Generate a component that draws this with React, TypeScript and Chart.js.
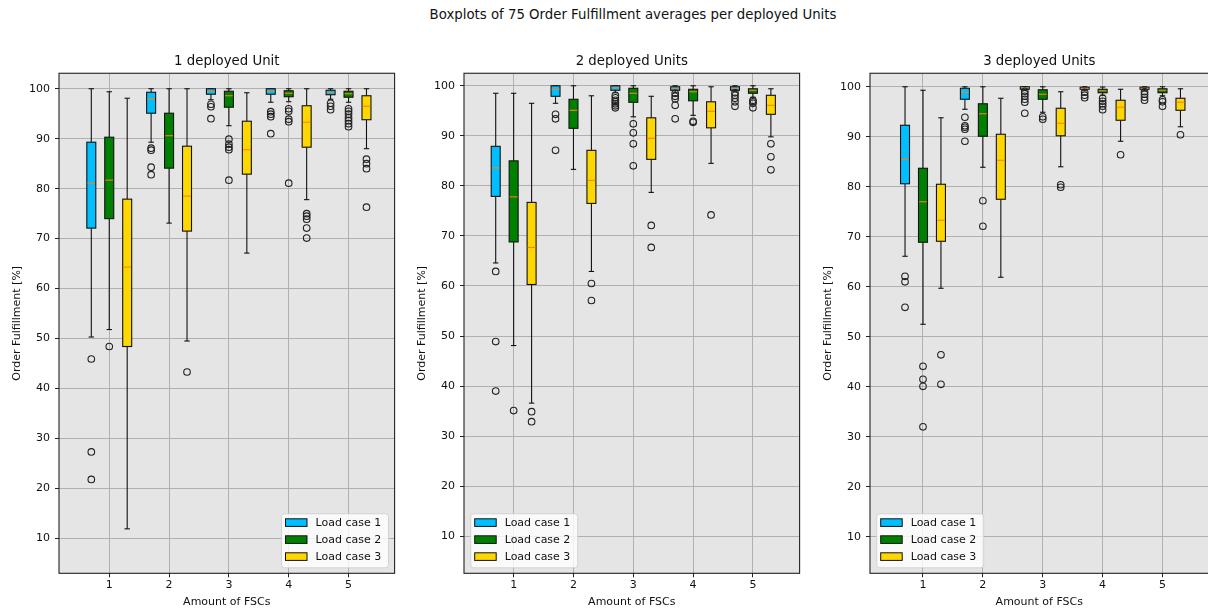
import React, { useEffect, useRef } from 'react';
import { Chart, registerables } from 'chart.js';

Chart.register(...registerables);

// ---------------- data ----------------
const figureTitle = 'Boxplots of 75 Order Fulfillment averages per deployed Units';
const panelTitles = ['1 deployed Unit', '2 deployed Units', '3 deployed Units'];
const xAxisLabel = 'Amount of FSCs';
const yAxisLabel = 'Order Fulfillment [%]';
const fscCounts = [1, 2, 3, 4, 5];
const yTickValues = [10, 20, 30, 40, 50, 60, 70, 80, 90, 100];
const loadCaseLabels = ['Load case 1', 'Load case 2', 'Load case 3'];
const loadCaseColors = ['#00bfff', '#008000', '#ffd700'];
const loadCaseOffsets = [-0.3, 0, 0.3];

// per FSC count: [lower whisker, Q1, median, Q3, upper whisker]
const unit1Case1 = [
  [50.3, 72.1, 81.1, 89.3, 100],
  [89.3, 95.1, 97.9, 99.3, 100],
  [97.8, 98.9, 99.5, 100, 100],
  [97.3, 98.9, 99.5, 100, 100],
  [97.9, 98.8, 99.3, 99.7, 100],
];
const unit1Case2 = [
  [51.8, 74.0, 81.7, 90.3, 99.4],
  [73.1, 84.1, 90.6, 95.1, 100],
  [92.6, 96.3, 98.6, 99.5, 100],
  [97.4, 98.4, 99.1, 99.6, 100],
  [97.3, 98.3, 99.0, 99.5, 100],
];
const unit1Case3 = [
  [11.9, 48.4, 64.3, 77.9, 98.1],
  [49.5, 71.5, 78.5, 88.5, 100],
  [67.1, 82.9, 87.8, 93.5, 99.2],
  [77.8, 88.3, 93.3, 96.6, 100],
  [88.0, 93.8, 96.5, 98.6, 100],
];
const unit1Case1Outliers = [[45.9, 27.3, 21.8], [88.1, 87.7, 84.3, 82.8], [96.9, 96.4, 94.0], [95.4, 94.9, 94.4, 91.0], [97.1, 96.5, 95.8]];
const unit1Case2Outliers = [[48.4], [], [89.9, 88.9, 88.3, 87.8, 81.7], [96.0, 95.5, 93.9, 93.4, 81.1], [96.0, 95.5, 94.9, 94.2, 93.6, 93.0, 92.4]];
const unit1Case3Outliers = [[], [43.3], [], [75.0, 74.5, 73.9, 72.1, 70.1], [85.9, 85.0, 84.0, 76.3]];

const unit2Case1 = [
  [64.6, 77.9, 83.6, 87.9, 98.5],
  [96.5, 97.9, 99.3, 100, 100],
  [98.6, 99.1, 99.6, 100, 100],
  [98.7, 99.1, 99.5, 99.8, 100],
  [98.9, 99.1, 99.5, 99.8, 100],
];
const unit2Case2 = [
  [48.1, 68.8, 77.8, 85.0, 98.5],
  [83.3, 91.5, 95.1, 97.3, 100],
  [93.8, 96.7, 98.5, 99.5, 100],
  [94.1, 97.0, 98.8, 99.3, 100],
  [97.7, 98.5, 99.1, 99.4, 100],
];
const unit2Case3 = [
  [36.6, 60.3, 67.7, 76.7, 96.5],
  [62.9, 76.5, 81.1, 87.1, 98.0],
  [78.7, 85.3, 89.5, 93.6, 97.9],
  [84.5, 91.6, 94.9, 96.8, 99.8],
  [89.8, 94.3, 96.1, 98.1, 99.4],
];
const unit2Case1Outliers = [[62.9, 48.9, 39.0], [94.3, 93.4, 87.1], [98.1, 97.6, 97.1, 96.8, 96.4, 96.0, 95.6], [98.5, 97.9, 97.4, 96.1, 93.4], [98.6, 98.1, 97.5, 96.8, 95.9]];
const unit2Case2Outliers = [[35.1], [], [92.4, 90.6, 88.4, 84.0], [92.9, 92.7], [97.1, 96.8, 96.5, 95.6]];
const unit2Case3Outliers = [[34.9, 32.9], [60.5, 57.1], [72.1, 67.7], [74.2], [88.4, 85.8, 83.2]];

const unit3Case1 = [
  [66.1, 80.6, 85.5, 92.3, 100],
  [95.5, 97.5, 98.9, 99.7, 100],
  [99.3, 99.5, 99.8, 100, 100],
  [99.2, 99.5, 99.7, 99.9, 100],
  [99.2, 99.5, 99.7, 99.9, 100],
];
const unit3Case2 = [
  [52.5, 68.9, 77.0, 83.7, 99.3],
  [83.9, 90.1, 94.6, 96.6, 100],
  [94.9, 97.5, 98.5, 99.4, 100],
  [98.3, 98.8, 99.2, 99.5, 99.95],
  [98.2, 98.8, 99.3, 99.6, 100],
];
const unit3Case3 = [
  [59.7, 69.1, 73.3, 80.5, 93.8],
  [61.9, 77.5, 85.3, 90.5, 97.7],
  [84.0, 90.2, 92.7, 95.7, 99.0],
  [89.1, 93.3, 95.9, 97.3, 99.5],
  [92.0, 95.3, 96.9, 97.7, 99.6],
];
const unit3Case1Outliers = [[62.1, 61.0, 55.9], [93.9, 92.2, 91.9, 91.5, 89.1], [99.1, 98.6, 98.1, 97.5, 96.9, 94.7], [98.9, 98.3, 97.8], [99.0, 98.5, 97.9, 97.3]];
const unit3Case2Outliers = [[44.1, 41.5, 40.1, 32.0], [77.2, 72.1], [94.0, 93.5], [97.7, 97.1, 96.6, 96.1, 95.4], [97.4, 97.0, 96.1]];
const unit3Case3Outliers = [[46.4, 40.5], [], [80.4, 79.9], [86.4], [90.4]];

const panels = [
  { title: panelTitles[0], stats: [unit1Case1, unit1Case2, unit1Case3], outliers: [unit1Case1Outliers, unit1Case2Outliers, unit1Case3Outliers], legendLoc: 'lower right' },
  { title: panelTitles[1], stats: [unit2Case1, unit2Case2, unit2Case3], outliers: [unit2Case1Outliers, unit2Case2Outliers, unit2Case3Outliers], legendLoc: 'lower left' },
  { title: panelTitles[2], stats: [unit3Case1, unit3Case2, unit3Case3], outliers: [unit3Case1Outliers, unit3Case2Outliers, unit3Case3Outliers], legendLoc: 'lower left' },
];

// ---------------- layout / style ----------------
const FONT = 'DejaVu Sans';
const SMALL = 11;
const LARGE = 13.3;
const FIG_W = 1208;
const FIG_H = 612;
const AREA_BOTTOM = 573.3;
const Y_AXIS_W = 60;
const RIGHT_PAD = 2;
const UNIT_PX = 60.3;
const BOX_W = 0.15;
const CAP_W = 0.09;
const panelLayout = [
  { left: 58.6, xMin: 0.16, xMax: 5.77, yMin: 3.0, yMax: 103.1 },
  { left: 464.3, xMin: 0.17, xMax: 5.78, yMin: 2.6, yMax: 102.5 },
  { left: 869.7, xMin: 0.115, xMax: 5.77, yMin: 2.7, yMax: 102.7 },
];

function line(ctx: CanvasRenderingContext2D, x1: number, y1: number, x2: number, y2: number) {
  ctx.beginPath();
  ctx.moveTo(x1, y1);
  ctx.lineTo(x2, y2);
  ctx.stroke();
}

function makePanelPlugin(panel: any) {
  return {
    id: 'boxplotPanel',
    beforeDraw(chart: any) {
      const { ctx, chartArea: a } = chart;
      ctx.save();
      ctx.fillStyle = '#e5e5e5';
      ctx.fillRect(a.left, a.top, a.right - a.left, a.bottom - a.top);
      ctx.restore();
    },
    beforeDatasetsDraw(chart: any) {
      const { ctx } = chart;
      const xs = chart.scales.x;
      const ys = chart.scales.y;
      ctx.save();
      ctx.lineWidth = 1.1;
      panel.stats.forEach((rows: number[][], k: number) => {
        rows.forEach((s: number[], j: number) => {
          const [lo, q1, med, q3, hi] = s;
          const cx = fscCounts[j] + loadCaseOffsets[k];
          const px = xs.getPixelForValue(cx);
          const bl = xs.getPixelForValue(cx - BOX_W / 2);
          const br = xs.getPixelForValue(cx + BOX_W / 2);
          const cl = xs.getPixelForValue(cx - CAP_W / 2);
          const cr = xs.getPixelForValue(cx + CAP_W / 2);
          const pLo = ys.getPixelForValue(lo);
          const pQ1 = ys.getPixelForValue(q1);
          const pMed = ys.getPixelForValue(med);
          const pQ3 = ys.getPixelForValue(q3);
          const pHi = ys.getPixelForValue(hi);
          ctx.strokeStyle = '#111';
          line(ctx, px, pHi, px, pQ3);
          line(ctx, px, pQ1, px, pLo);
          line(ctx, cl, pHi, cr, pHi);
          line(ctx, cl, pLo, cr, pLo);
          ctx.fillStyle = loadCaseColors[k];
          ctx.fillRect(bl, pQ3, br - bl, pQ1 - pQ3);
          ctx.strokeRect(bl, pQ3, br - bl, pQ1 - pQ3);
          ctx.strokeStyle = '#ff7f0e';
          line(ctx, bl + 0.6, pMed, br - 0.6, pMed);
        });
      });
      ctx.restore();
    },
    afterDatasetsDraw(chart: any) {
      const { ctx, chartArea: a } = chart;
      const w = 107;
      const h = 54;
      const left = panel.legendLoc === 'lower right' ? a.right - 6.6 - w : a.left + 6.2;
      const top = a.bottom - 6 - h;
      ctx.save();
      ctx.beginPath();
      ctx.roundRect(left + 0.5, top + 0.5, w, h, 3);
      ctx.fillStyle = 'rgba(255,255,255,0.8)';
      ctx.fill();
      ctx.strokeStyle = 'rgba(204,204,204,0.8)';
      ctx.lineWidth = 1;
      ctx.stroke();
      ctx.font = `${SMALL}px "${FONT}"`;
      ctx.textBaseline = 'middle';
      ctx.textAlign = 'left';
      loadCaseLabels.forEach((lab, k) => {
        const cy = top + 9.3 + 17 * k;
        ctx.fillStyle = loadCaseColors[k];
        ctx.fillRect(left + 4.5, cy - 3.8, 21.5, 7.6);
        ctx.strokeStyle = '#111';
        ctx.strokeRect(left + 4.5, cy - 3.8, 21.5, 7.6);
        ctx.fillStyle = '#111';
        ctx.fillText(lab, left + 34.5, cy + 0.5);
      });
      ctx.restore();
    },
    afterDraw(chart: any) {
      const { ctx, chartArea: a } = chart;
      ctx.save();
      ctx.strokeStyle = '#222';
      ctx.lineWidth = 1.1;
      ctx.strokeRect(a.left, a.top, a.right - a.left, a.bottom - a.top);
      ctx.restore();
    },
  };
}

function Panel({ index }: { index: number }) {
  const ref = useRef<HTMLCanvasElement>(null);
  const lay = panelLayout[index];
  const panel = panels[index];
  const areaW = (lay.xMax - lay.xMin) * UNIT_PX;
  const canvasW = Math.round(Y_AXIS_W + areaW + RIGHT_PAD);
  const canvasLeft = lay.left - Y_AXIS_W;

  useEffect(() => {
    if (!ref.current) return;
    const datasets = panel.outliers.map((perFsc: number[][], k: number) => ({
      label: loadCaseLabels[k],
      data: perFsc.flatMap((vals, j) => vals.map((v) => ({ x: fscCounts[j] + loadCaseOffsets[k], y: v }))),
      showLine: false,
      pointStyle: 'circle',
      pointRadius: 3.3,
      pointBorderWidth: 1.1,
      pointBorderColor: '#222',
      pointBackgroundColor: 'rgba(0,0,0,0)',
      pointHoverRadius: 3.3,
    }));
    const tickFont = { family: FONT, size: SMALL };
    const chart = new Chart(ref.current, {
      type: 'scatter',
      data: { datasets },
      plugins: [makePanelPlugin(panel)],
      options: {
        animation: false,
        responsive: false,
        devicePixelRatio: 1,
        events: [],
        layout: { padding: { left: 0, right: RIGHT_PAD, top: 0, bottom: 0 } },
        plugins: {
          legend: { display: false },
          tooltip: { enabled: false },
          title: {
            display: true,
            text: panel.title,
            fullSize: false,
            color: '#111',
            font: { family: FONT, size: LARGE, weight: 'normal', lineHeight: 1.2 },
            padding: { top: 54.0, bottom: 3.3 },
          },
        },
        scales: {
          x: {
            type: 'linear',
            min: lay.xMin,
            max: lay.xMax,
            afterFit: (s: any) => { s.height = FIG_H - AREA_BOTTOM; },
            afterBuildTicks: (s: any) => { s.ticks = fscCounts.map((v) => ({ value: v })); },
            ticks: { font: tickFont, color: '#111', padding: 1.5, maxRotation: 0, autoSkip: false },
            grid: { color: '#b0b0b0', lineWidth: 1, tickLength: 4, tickColor: '#222' },
            border: { display: false },
            title: { display: true, text: xAxisLabel, color: '#111', font: tickFont, padding: { top: 0, bottom: 3.4 } },
          },
          y: {
            type: 'linear',
            min: lay.yMin,
            max: lay.yMax,
            afterFit: (s: any) => { s.width = Y_AXIS_W; },
            afterBuildTicks: (s: any) => { s.ticks = yTickValues.map((v) => ({ value: v })); },
            ticks: { font: tickFont, color: '#111', padding: 5 },
            grid: { color: '#b0b0b0', lineWidth: 1, tickLength: 4, tickColor: '#222' },
            border: { display: false },
            title: { display: true, text: yAxisLabel, color: '#111', font: tickFont, padding: { top: 11.8, bottom: 0 } },
          },
        },
      },
    } as any);
    return () => chart.destroy();
  }, []);

  return (
    <canvas
      ref={ref}
      width={canvasW}
      height={FIG_H}
      style={{ position: 'absolute', left: canvasLeft, top: 0, width: canvasW, height: FIG_H }}
    />
  );
}

export default function App() {
  return (
    <div
      style={{
        position: 'absolute',
        left: 0,
        top: 0,
        width: FIG_W,
        height: FIG_H,
        overflow: 'hidden',
        background: '#ffffff',
      }}
    >
      <div
        style={{
          position: 'absolute',
          left: 633,
          top: 6,
          transform: 'translateX(-50%)',
          whiteSpace: 'nowrap',
          fontFamily: FONT,
          fontSize: LARGE,
          lineHeight: '18px',
          color: '#111',
        }}
      >
        {figureTitle}
      </div>
      {panels.map((_, i) => (
        <Panel key={i} index={i} />
      ))}
    </div>
  );
}
